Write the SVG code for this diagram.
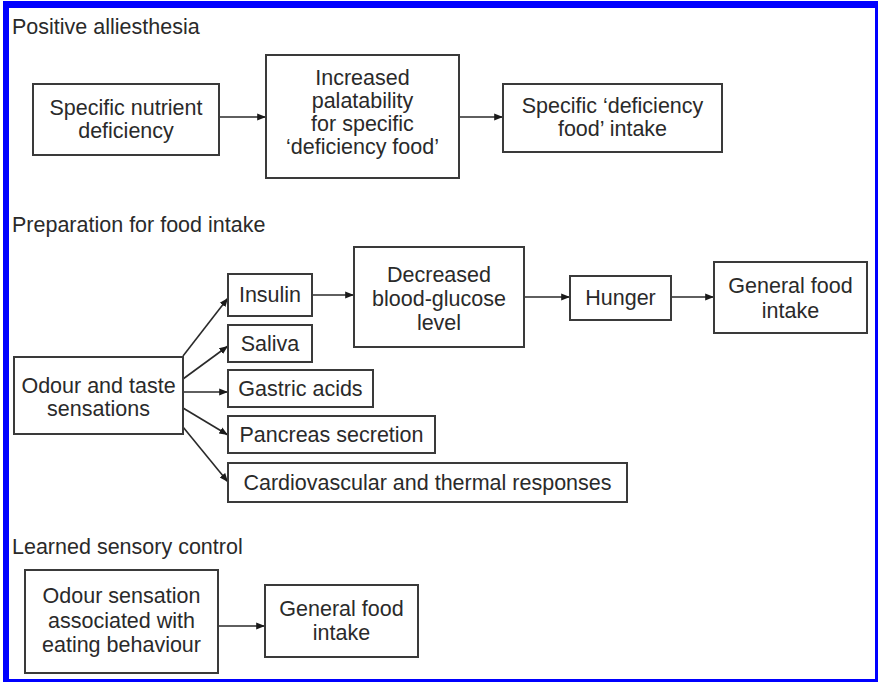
<svg xmlns="http://www.w3.org/2000/svg" width="878" height="682" viewBox="0 0 878 682">
<style>
.box{fill:#fff;stroke:#3a3a3a;stroke-width:2}
.t{font-family:"Liberation Sans",Arial,sans-serif;font-size:21.5px;fill:#2a2a2a;text-anchor:middle}
.h{font-family:"Liberation Sans",Arial,sans-serif;font-size:21.5px;fill:#2a2a2a}
.c{stroke:#2a2a2a;stroke-width:1.6;fill:none;marker-end:url(#ah)}
</style>
<defs>
<marker id="ah" viewBox="0 0 10 10" refX="10" refY="5" markerWidth="5.5" markerHeight="5.5" orient="auto" markerUnits="strokeWidth">
<path d="M0,1 L10,5 L0,9 Z" fill="#1a1a1a"/>
</marker>
</defs>
<rect x="3" y="1" width="875" height="681" fill="#0000ff"/>
<rect x="9" y="8" width="866" height="671" fill="#fff"/>

<text class="h" x="12" y="34">Positive alliesthesia</text>
<text class="h" x="12" y="232">Preparation for food intake</text>
<text class="h" x="12" y="554">Learned sensory control</text>

<g id="connectors">
<line class="c" x1="219" y1="117" x2="266" y2="117"/>
<line class="c" x1="459" y1="117" x2="503" y2="117"/>
<line class="c" x1="183" y1="356" x2="228" y2="298"/>
<line class="c" x1="183" y1="379" x2="228" y2="346"/>
<line class="c" x1="183" y1="392" x2="228" y2="392"/>
<line class="c" x1="183" y1="408" x2="228" y2="435"/>
<line class="c" x1="183" y1="427" x2="228" y2="482"/>
<line class="c" x1="312" y1="295" x2="354" y2="295"/>
<line class="c" x1="524" y1="297" x2="570" y2="297"/>
<line class="c" x1="671" y1="297" x2="714" y2="297"/>
<line class="c" x1="218" y1="626" x2="265" y2="626"/>
</g>

<g id="n-nutrient">
<rect class="box" x="33" y="84" width="186" height="71"/>
<text class="t" x="126" y="115">Specific nutrient</text>
<text class="t" x="126" y="138">deficiency</text>
</g>
<g id="n-palatability">
<rect class="box" x="266" y="55" width="193" height="123"/>
<text class="t" x="362.5" y="85">Increased</text>
<text class="t" x="362.5" y="108">palatability</text>
<text class="t" x="362.5" y="131">for specific</text>
<text class="t" x="362.5" y="154">‘deficiency food’</text>
</g>
<g id="n-deficiency-intake">
<rect class="box" x="503" y="84" width="219" height="68"/>
<text class="t" x="612.5" y="113">Specific ‘deficiency</text>
<text class="t" x="612.5" y="136">food’ intake</text>
</g>

<g id="n-odour-taste">
<rect class="box" x="14" y="357" width="169" height="77"/>
<text class="t" x="98.5" y="393">Odour and taste</text>
<text class="t" x="98.5" y="416">sensations</text>
</g>
<g id="n-insulin">
<rect class="box" x="228" y="274" width="84" height="42"/>
<text class="t" x="270" y="302">Insulin</text>
</g>
<g id="n-saliva">
<rect class="box" x="228" y="325" width="84" height="37"/>
<text class="t" x="270" y="351">Saliva</text>
</g>
<g id="n-gastric">
<rect class="box" x="228" y="370" width="145" height="37"/>
<text class="t" x="300.5" y="396">Gastric acids</text>
</g>
<g id="n-pancreas">
<rect class="box" x="228" y="416" width="207" height="37"/>
<text class="t" x="331.5" y="442">Pancreas secretion</text>
</g>
<g id="n-cardio">
<rect class="box" x="228" y="463" width="399" height="39"/>
<text class="t" x="427.5" y="490">Cardiovascular and thermal responses</text>
</g>
<g id="n-glucose">
<rect class="box" x="354" y="247" width="170" height="100"/>
<text class="t" x="439" y="282">Decreased</text>
<text class="t" x="439" y="306">blood-glucose</text>
<text class="t" x="439" y="330">level</text>
</g>
<g id="n-hunger">
<rect class="box" x="570" y="276" width="101" height="44"/>
<text class="t" x="620.5" y="305">Hunger</text>
</g>
<g id="n-general1">
<rect class="box" x="714" y="262" width="153" height="71"/>
<text class="t" x="790.5" y="293">General food</text>
<text class="t" x="790.5" y="318">intake</text>
</g>

<g id="n-odour-sensation">
<rect class="box" x="25" y="570" width="193" height="103"/>
<text class="t" x="121.5" y="603">Odour sensation</text>
<text class="t" x="121.5" y="628">associated with</text>
<text class="t" x="121.5" y="652">eating behaviour</text>
</g>
<g id="n-general2">
<rect class="box" x="265" y="585" width="153" height="72"/>
<text class="t" x="341.5" y="616">General food</text>
<text class="t" x="341.5" y="640">intake</text>
</g>
</svg>
